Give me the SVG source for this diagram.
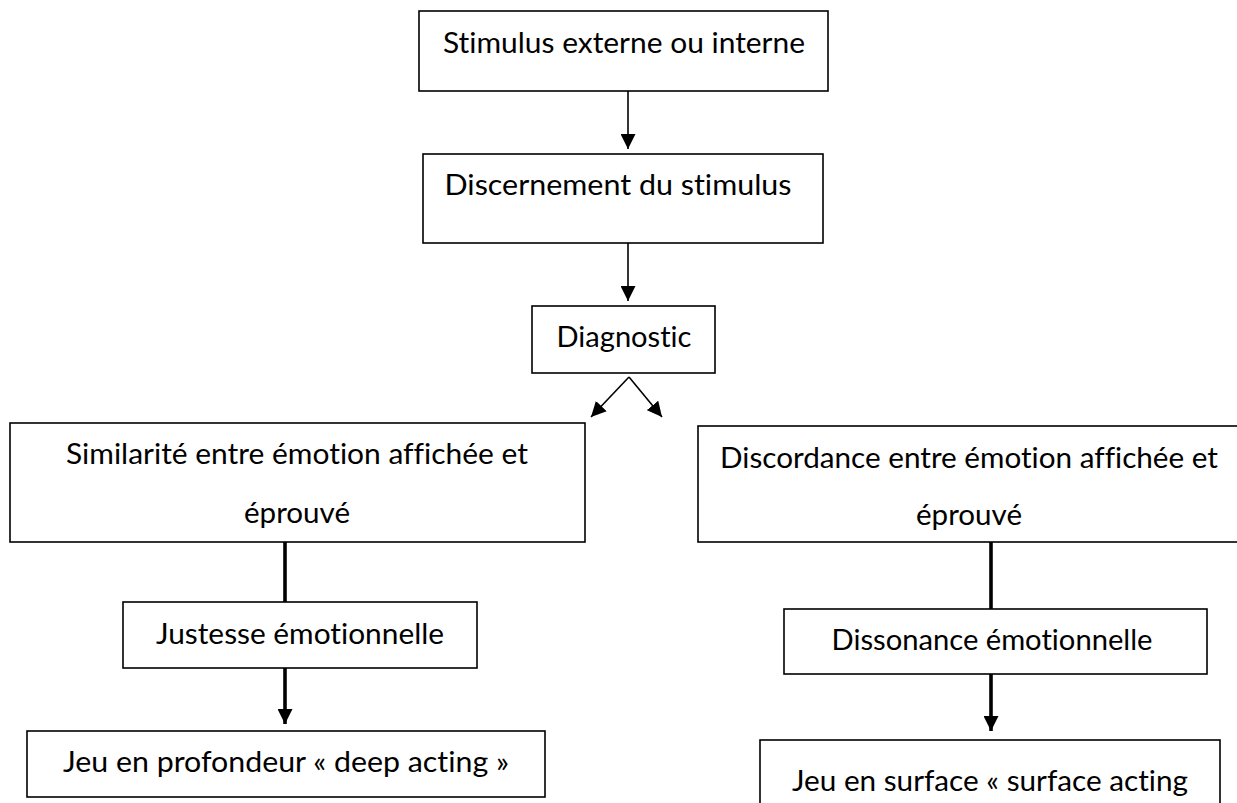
<svg xmlns="http://www.w3.org/2000/svg" width="1237" height="803" viewBox="0 0 1237 803">
<style>
.box{fill:#fff;stroke:#000;stroke-width:1.6}
.t{font-family:Lato,"Open Sans","Noto Sans",sans-serif;font-size:28px;fill:#000;text-anchor:middle;font-variant-ligatures:none;font-feature-settings:"liga" 0,"clig" 0,"dlig" 0}
.thin{stroke:#000;stroke-width:1.6;fill:none}
.thick{stroke:#000;stroke-width:3.6;fill:none}
</style>
<defs>
<marker id="ah" markerUnits="userSpaceOnUse" markerWidth="15" markerHeight="15" refX="15" refY="7.5" orient="auto" viewBox="0 0 15 15">
<path d="M0,0 L15,7.5 L0,15 z" fill="#000"/>
</marker>
</defs>
<rect width="1237" height="803" fill="#fff"/>
<g id="connectors">
<line class="thin" x1="628" y1="91" x2="628" y2="149" marker-end="url(#ah)"/>
<line class="thin" x1="628" y1="243" x2="628" y2="301" marker-end="url(#ah)"/>
<line class="thin" x1="629" y1="377" x2="591" y2="417" marker-end="url(#ah)"/>
<line class="thin" x1="629" y1="377" x2="662" y2="417" marker-end="url(#ah)"/>
<line class="thick" x1="285" y1="542" x2="285" y2="602"/>
<line class="thick" x1="285" y1="668" x2="285" y2="724" marker-end="url(#ah)"/>
<line class="thick" x1="991" y1="542" x2="991" y2="609"/>
<line class="thick" x1="991" y1="674" x2="991" y2="731" marker-end="url(#ah)"/>
</g>
<g id="n1">
<rect class="box" x="419" y="11" width="409" height="80"/>
<text class="t" x="624" y="53" textLength="362" lengthAdjust="spacingAndGlyphs">Stimulus externe ou interne</text>
</g>
<g id="n2">
<rect class="box" x="423" y="154" width="400" height="89"/>
<text class="t" x="618" y="195" textLength="347" lengthAdjust="spacingAndGlyphs">Discernement du stimulus</text>
</g>
<g id="n3">
<rect class="box" x="532" y="306" width="183" height="67"/>
<text class="t" x="624" y="347" textLength="135" lengthAdjust="spacingAndGlyphs">Diagnostic</text>
</g>
<g id="n4">
<rect class="box" x="10" y="423" width="575" height="119"/>
<text class="t" x="297" y="464" textLength="462" lengthAdjust="spacingAndGlyphs">Similarité entre émotion affichée et</text>
<text class="t" x="297" y="523" textLength="106" lengthAdjust="spacingAndGlyphs">éprouvé</text>
</g>
<g id="n5">
<rect class="box" x="123" y="602" width="354" height="66"/>
<text class="t" x="300" y="644" textLength="288" lengthAdjust="spacingAndGlyphs">Justesse émotionnelle</text>
</g>
<g id="n6">
<rect class="box" x="27" y="731" width="518" height="66"/>
<text class="t" x="286" y="772" textLength="446" lengthAdjust="spacingAndGlyphs">Jeu en profondeur « deep acting »</text>
</g>
<g id="n7">
<rect class="box" x="698" y="426" width="545" height="116"/>
<text class="t" x="969" y="468" textLength="498" lengthAdjust="spacingAndGlyphs">Discordance entre émotion affichée et</text>
<text class="t" x="969" y="525" textLength="106" lengthAdjust="spacingAndGlyphs">éprouvé</text>
</g>
<g id="n8">
<rect class="box" x="784" y="609" width="423" height="65"/>
<text class="t" x="992" y="650" textLength="321" lengthAdjust="spacingAndGlyphs">Dissonance émotionnelle</text>
</g>
<g id="n9">
<rect class="box" x="760" y="740" width="460" height="80"/>
<text class="t" x="990" y="791" textLength="396" lengthAdjust="spacingAndGlyphs">Jeu en surface « surface acting</text>
</g>
</svg>
